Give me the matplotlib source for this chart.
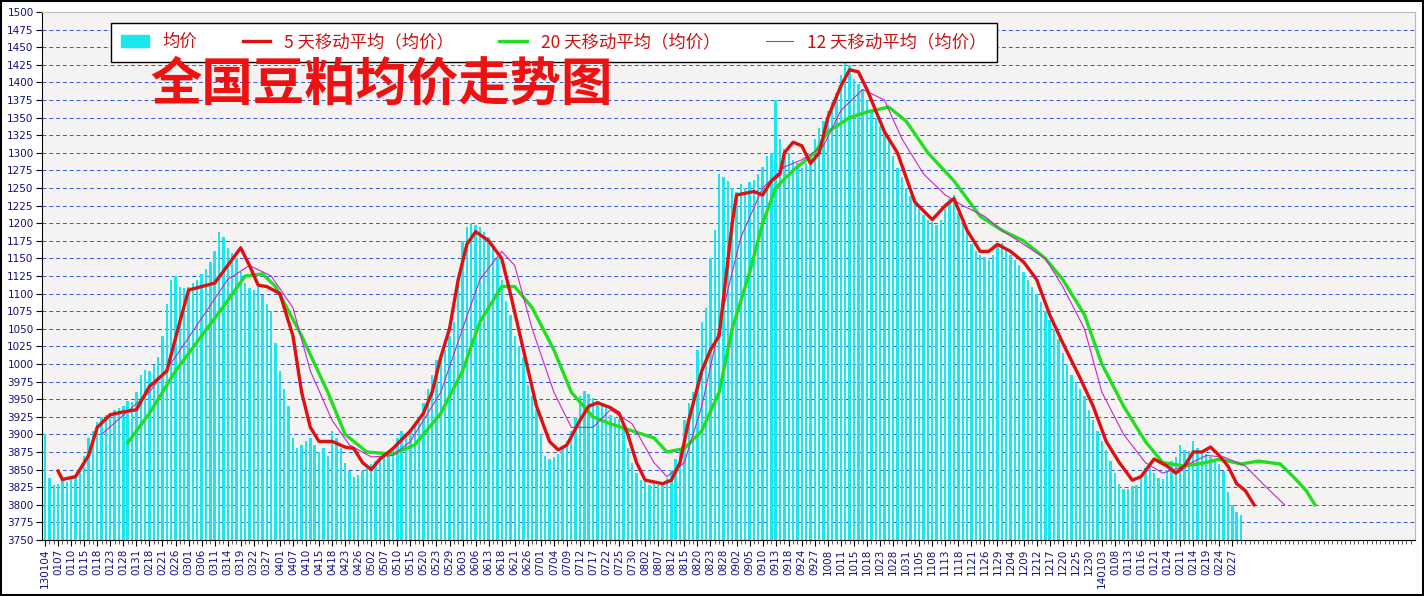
import matplotlib
matplotlib.use("Agg")
import matplotlib.pyplot as plt
from matplotlib.patches import Patch
from matplotlib.lines import Line2D
import numpy as np

plt.rcParams['font.family'] = ['Noto Sans CJK SC', 'DejaVu Sans']

date_labels = ["130104","0107","0110","0115","0118","0123","0128","0131","0218","0221","0226","0301","0306","0311","0314","0319","0322","0327","0401","0407","0410","0415","0418","0423","0426","0502","0507","0510","0515","0520","0523","0529","0603","0606","0613","0618","0621","0626","0701","0704","0709","0712","0717","0722","0725","0730","0802","0807","0812","0815","0820","0823","0828","0902","0905","0910","0913","0918","0924","0927","1008","1011","1015","1018","1023","1028","1031","1105","1108","1113","1118","1121","1126","1129","1204","1209","1212","1217","1220","1225","1230","140103","0108","0113","0116","0121","0124","0211","0214","0219","0224","0227"]

price = [3900,3838,3828, 3830,3835,3832, 3838,3840,3850, 3870,3895,3905, 3918,3925,3928, 3930,3935,3938,
 3940,3948,3946, 3960,3985,3992, 3990,3998,4010, 4040,4085,4120, 4125,4110,4108, 4110,4115,4120,
 4128,4135,4145, 4160,4188,4180, 4165,4158,4150, 4130,4115,4108, 4105,4110,4098, 4085,4075,4030,
 3990,3965,3940, 3895,3880,3885, 3890,3895,3885, 3875,3880,3870, 3905,3895,3880, 3860,3848,3840,
 3842,3848,3852, 3858,3862,3866, 3870,3875,3880, 3895,3905,3902, 3908,3912,3925, 3945,3965,3985,
 4005,4012,4020, 4040,4060,4120, 4175,4195,4200, 4198,4195,4188, 4180,4170,4150, 4120,4090,4070,
 4040,4025,4010, 3970,3955,3935, 3900,3870,3865, 3868,3872,3880, 3890,3905,3925, 3955,3962,3958,
 3952,3948,3945, 3938,3928,3925, 3922,3915,3880, 3860,3845,3835, 3832,3828,3830, 3828,3832,3838,
 3850,3865,3880, 3920,3945,3960, 4020,4060,4080, 4150,4190,4270, 4265,4260,4250, 4245,4255,4250,
 4258,4262,4270, 4280,4295,4300, 4375,4320,4305, 4300,4290,4285, 4278,4285,4295, 4320,4335,4345,
 4360,4372,4385, 4410,4430,4425, 4405,4398,4390, 4375,4360,4350, 4338,4328,4320, 4295,4278,4265,
 4250,4238,4230, 4220,4212,4205, 4202,4198,4205, 4220,4235,4240, 4215,4200,4190, 4170,4160,4155,
 4152,4148,4155, 4168,4172,4165, 4155,4148,4140, 4130,4120,4110, 4100,4088,4075, 4062,4048,4035,
 4015,4000,3985, 3975,3965,3955, 3935,3920,3905, 3890,3878,3862, 3845,3830,3822, 3822,3826,3828,
 3840,3852,3858, 3845,3838,3836, 3850,3862,3868, 3885,3878,3876, 3890,3880,3874, 3872,3868,3862,
 3858,3848,3818, 3800,3790,3785]

ma5_day = [3,4,7,10,12,15,18,21,24,28,31,33,36,39,42,45,47,49,51,54,57,59,61,63,66,69,71,73,75,77,80,84,87,89,91,93,95,97,99,102,105,107,110,113,116,118,120,123,125,127,130,132,134,136,138,142,144,146,148,151,153,155,158,159,163,165,167,169,170,172,174,176,178,180,183,185,187,189,193,196,200,204,207,209,212,215,217,219,222,225,228,231,234,238,241,244,247,250,252,255,258,260,262,264,266,268,270,272,274,276,278]
ma5_val = [3848,3836,3840,3870,3910,3928,3932,3935,3968,3990,4060,4105,4110,4115,4140,4165,4140,4112,4110,4100,4040,3960,3910,3890,3890,3882,3880,3860,3850,3865,3880,3905,3930,3960,4010,4050,4120,4170,4188,4175,4150,4100,4020,3940,3890,3878,3885,3920,3940,3945,3938,3930,3900,3860,3835,3830,3835,3860,3920,3990,4020,4040,4200,4240,4245,4240,4260,4270,4300,4315,4310,4285,4300,4350,4395,4418,4415,4390,4330,4300,4230,4205,4225,4235,4190,4160,4160,4170,4160,4145,4120,4070,4030,3980,3940,3890,3860,3835,3840,3865,3855,3845,3855,3875,3875,3882,3870,3855,3830,3820,3800]

ma20_day = [19,24,30,36,42,46,50,53,59,65,69,74,80,85,91,96,100,105,108,112,117,121,126,130,135,140,143,147,151,155,158,162,165,168,172,177,180,185,189,194,198,203,209,215,220,225,230,234,239,243,248,253,257,262,267,270,275,279,284,287,290,292]
ma20_val = [3888,3930,3990,4040,4090,4125,4128,4110,4040,3960,3900,3875,3872,3885,3930,3990,4060,4110,4110,4080,4020,3960,3925,3915,3905,3895,3875,3880,3905,3960,4050,4130,4200,4250,4275,4300,4330,4350,4358,4365,4345,4300,4260,4210,4190,4175,4150,4120,4070,4000,3940,3890,3860,3855,3860,3865,3858,3862,3858,3840,3820,3800]

ma12_day = [13,24,30,36,42,47,52,57,61,66,70,75,80,84,91,96,100,105,108,112,117,121,126,130,135,140,143,147,151,156,160,165,170,174,179,183,188,193,197,202,207,211,216,220,225,230,234,239,243,248,253,257,262,267,271,276,280,285]
ma12_val = [3900,3960,4010,4065,4120,4140,4125,4080,3990,3920,3885,3868,3870,3890,3960,4050,4120,4160,4140,4050,3960,3910,3910,3935,3915,3860,3840,3860,3940,4080,4180,4250,4280,4290,4310,4360,4390,4375,4320,4270,4240,4225,4210,4190,4170,4150,4110,4050,3960,3900,3860,3845,3855,3870,3868,3855,3830,3800]

fig = plt.figure(figsize=(14.24, 5.96), dpi=100)
fig.patch.set_facecolor('white')
ax = fig.add_axes([42/1424, 56/596, 1373/1424, 528/596])
ax.set_facecolor('#f5f3f2')

x = np.arange(len(price))
ax.bar(x, np.array(price) - 3750, bottom=3750, width=0.55, color='#19e6ee', zorder=2)
ax.plot(ma20_day, ma20_val, color='#22dd22', lw=2.4, zorder=4)
ax.plot(ma12_day, ma12_val, color='#cc22cc', lw=0.8, zorder=4)
ax.plot(ma5_day, ma5_val, color='#dd1111', lw=2.4, zorder=5)

ax.set_ylim(3750, 4500)
ax.set_xlim(-0.7, 315)
yt = np.arange(3750, 4501, 25)
ax.set_yticks(yt)
ax.set_yticklabels([str(v if v < 4000 else v - 3000) for v in yt], fontsize=7.5, color='#101080', family='DejaVu Sans')
ax.yaxis.grid(True, ls=(0, (4, 3)), color='#3355dd', lw=0.7, zorder=1)
ax.set_xticks(np.arange(len(date_labels)) * 3)
ax.set_xticklabels(date_labels, rotation=90, fontsize=7.5, color='#101080', family='DejaVu Sans')
ax.set_xticks(np.arange(0, 315, 1), minor=True)
ax.tick_params(axis='x', which='minor', length=3, color='#444444')
ax.tick_params(axis='x', which='major', length=4, pad=2)
ax.tick_params(axis='y', length=4, pad=2)
for s in ['top', 'right']:
    ax.spines[s].set_color('#bbbbbb')

handles = [Patch(color='#19e6ee'), Line2D([], [], color='#dd1111', lw=2.4),
           Line2D([], [], color='#22dd22', lw=2.4), Line2D([], [], color='#cc22cc', lw=0.8)]
labels = ['均价', '5 天移动平均（均价）', '20 天移动平均（均价）', '12 天移动平均（均价）']
leg = ax.legend(handles, labels, ncol=4, loc='upper left', bbox_to_anchor=(60/1373, 1 - 2/528),
                fontsize=12.5, frameon=True, fancybox=False, edgecolor='black', facecolor='white',
                framealpha=1, handlelength=1.6, columnspacing=2.6, borderpad=0.6)
for t in leg.get_texts():
    t.set_color('#cc1111')

fig.text(150/1424, 1 - 84/596, '全国豆粕均价走势图', fontsize=37, fontweight='bold', color='#ee1111', va='center')
fig.patches.append(plt.Rectangle((0.001, 0.002), 0.998, 0.996, transform=fig.transFigure, fill=False, ec='black', lw=1.5))
fig.savefig('out.png', dpi=100)
